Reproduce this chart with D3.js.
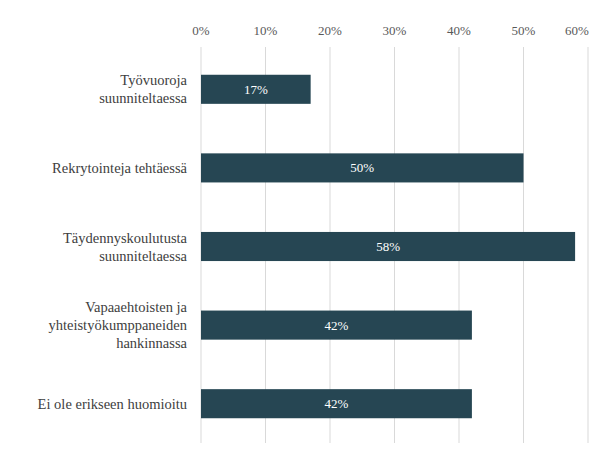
<!DOCTYPE html>
<html lang="en">
<head>
<meta charset="UTF-8">
<script src="https://d3js.org/d3.v7.min.js"></script>
<style>body{margin:0;background:#fff}</style>
</head>
<body>
<svg width="600" height="458"></svg>
<script>
const categories = [["Työvuoroja", "suunniteltaessa"], ["Rekrytointeja tehtäessä"], ["Täydennyskoulutusta", "suunniteltaessa"], ["Vapaaehtoisten ja", "yhteistyökumppaneiden", "hankinnassa"], ["Ei ole erikseen huomioitu"]];
const values = [17, 50, 58, 42, 42];
const ticks = [0, 10, 20, 30, 40, 50, 60];

const svg = d3.select("svg");
const font = "'Liberation Serif', 'Times New Roman', serif";
const x = d3.scaleLinear().domain([0, 60]).range([201, 588]);
const y = d3.scaleBand().domain(d3.range(values.length)).range([50, 443]).paddingInner(0.63).paddingOuter(0.315);

// grid
svg.append("g").selectAll("line").data(ticks).enter().append("line")
  .attr("x1", d => x(d)).attr("x2", d => x(d))
  .attr("y1", 47).attr("y2", 443)
  .attr("stroke", "#d9d9d9");

svg.append("g").selectAll("text").data(ticks).enter().append("text")
  .attr("x", d => d === 60 ? x(d) - 11 : x(d))
  .attr("y", 35).attr("text-anchor", "middle")
  .attr("font-family", font).attr("font-size", 13).attr("fill", "#595959")
  .text(d => d + "%");

svg.append("g").selectAll("rect").data(values).enter().append("rect")
  .attr("x", x(0)).attr("y", (d, i) => y(i))
  .attr("width", d => x(d) - x(0)).attr("height", y.bandwidth())
  .attr("fill", "#264653");

svg.append("g").selectAll("text").data(values).enter().append("text")
  .attr("x", d => (x(0) + x(d)) / 2).attr("y", (d, i) => y(i) + y.bandwidth() / 2 + 4.5)
  .attr("text-anchor", "middle").attr("font-family", font).attr("font-size", 13).attr("fill", "#fff")
  .text(d => d + "%");

const lab = svg.append("g").selectAll("text").data(categories).enter().append("text")
  .attr("text-anchor", "end").attr("font-family", font).attr("font-size", 14.5).attr("fill", "#404040")
  .attr("y", (d, i) => y(i) + y.bandwidth() / 2 + 5 - (d.length - 1) * 9);
lab.selectAll("tspan").data(d => d).enter().append("tspan")
  .attr("x", 187).attr("dy", (d, j) => j ? 18 : 0).text(d => d);
</script>
</body>
</html>
